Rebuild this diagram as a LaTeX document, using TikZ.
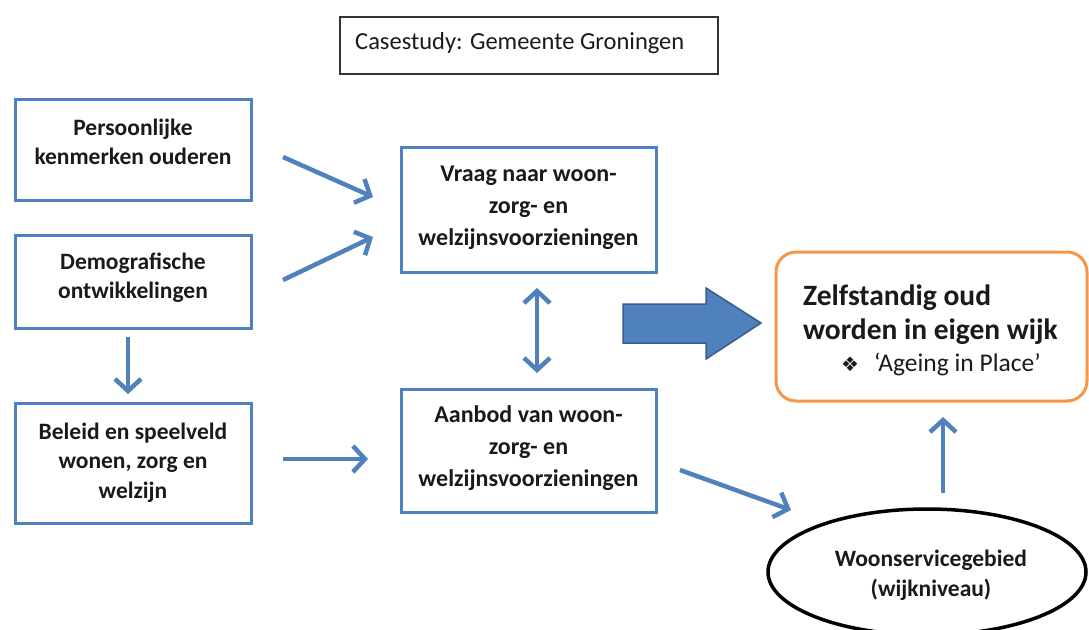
\documentclass[tikz,border=0pt]{standalone}
\usepackage{fontspec}
\setmainfont{Carlito}
\newfontfamily\symfont{DejaVu Sans}
\usetikzlibrary{arrows.meta,shapes.geometric}
\definecolor{bl}{HTML}{4F81BD}
\definecolor{bld}{HTML}{385D8A}
\definecolor{og}{HTML}{F79646}
\definecolor{tx}{HTML}{1A1A1A}
\begin{document}
\begin{tikzpicture}[x=1pt,y=-1pt,
  box/.style={draw=bl, line width=3pt, inner sep=0pt, rectangle},
  lbl/.style={font=\bfseries\fontsize{23.5}{29.5}\selectfont, align=center, text=tx, inner sep=0pt},
  lblb/.style={font=\bfseries\fontsize{24}{32}\selectfont, align=center, text=tx, inner sep=0pt},
  conn/.style={draw=bl, line width=4.5pt, -{Straight Barb[length=12pt,width=26pt]}},
  dconn/.style={draw=bl, line width=4.5pt, {Straight Barb[length=12pt,width=26pt]}-{Straight Barb[length=12pt,width=26pt]}}]
\useasboundingbox (0,0) rectangle (1089,629);
\fill[white] (0,0) rectangle (1089,629);

% title box
\node[draw=black!80, line width=1.2pt, minimum width=378pt, minimum height=57pt, inner sep=0pt] (cs) at (529,45.5) {};
\node[anchor=west, font=\fontsize{24.5}{28}\selectfont, text=tx, inner sep=0pt] (cst) at (355,43) {Casestudy: Gemeente Groningen};

% left boxes
\node[box, minimum width=236pt, minimum height=101pt] (pk) at (133,149.5) {};
\node[lbl] (pkt) at (133,142) {Persoonlijke\\kenmerken ouderen};
\node[box, minimum width=236pt, minimum height=93pt] (dm) at (133,281.5) {};
\node[lbl] (dmt) at (133,277.5) {Demografische\\ontwikkelingen};
\node[box, minimum width=236pt, minimum height=120pt] (bl) at (133,463) {};
\node[lbl] (blt) at (133,462.5) {Beleid en speelveld\\wonen, zorg en\\welzijn};

% middle boxes
\node[box, minimum width=255pt, minimum height=125pt] (vr) at (528.5,209.5) {};
\node[lblb] (vrt) at (528.5,207.5) {Vraag naar woon-\\zorg- en\\welzijnsvoorzieningen};
\node[box, minimum width=255pt, minimum height=123pt] (ab) at (528.5,450.5) {};
\node[lblb] (abt) at (528.5,448.5) {Aanbod van woon-\\zorg- en\\welzijnsvoorzieningen};

% goal box
\node[draw=og, line width=3pt, rounded corners=20pt, minimum width=311pt, minimum height=149pt, inner sep=0pt] (zo) at (931.5,326.5) {};
\node[anchor=west, align=left, font=\bfseries\fontsize{29.5}{34}\selectfont, text=tx, inner sep=0pt] (zot) at (803,314.5) {Zelfstandig oud\\worden in eigen wijk};
\node[anchor=west, font=\fontsize{25.5}{28}\selectfont, text=tx, inner sep=0pt] (agt) at (841,364) {{\symfont\fontsize{20}{22}\selectfont ❖}\hspace{15pt}‘Ageing in Place’};

% ellipse
\node[ellipse, draw=black, line width=3.5pt, minimum width=318pt, minimum height=126pt, inner sep=0pt] (ws) at (927,572) {};
\node[lbl] (wst) at (931,575) {Woonservicegebied\\(wijkniveau)};

% connector end points
\coordinate (a1) at (283,157); \coordinate (a2) at (373,197);
\coordinate (b1) at (283,280); \coordinate (b2) at (373,237);
\coordinate (c1) at (128,337); \coordinate (c2) at (128,394);
\coordinate (d1) at (283,459); \coordinate (d2) at (368,459);
\coordinate (e1) at (537,288); \coordinate (e2) at (537,373);
\coordinate (f1) at (680,470); \coordinate (f2) at (791,510);
\coordinate (g1) at (943,493); \coordinate (g2) at (943,417);

\draw[conn] (a1) -- (a2);
\draw[conn] (b1) -- (b2);
\draw[conn] (c1) -- (c2);
\draw[conn] (d1) -- (d2);
\draw[dconn] (e1) -- (e2);
\draw[conn] (f1) -- (f2);
\draw[conn] (g1) -- (g2);

% block arrow
\coordinate (h0) at (623,304);
\filldraw[fill=bl, draw=bld, line width=1.5pt, line join=miter]
  (h0) -- (706,304) -- (706,288) -- (761,323) -- (706,359) -- (706,343) -- (623,343) -- cycle;
\end{tikzpicture}
\end{document}
